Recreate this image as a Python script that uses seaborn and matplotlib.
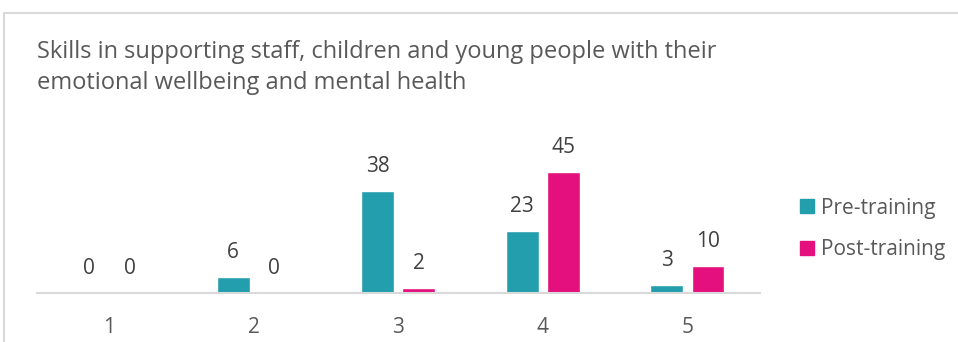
import pandas as pd
import seaborn as sns
import matplotlib.pyplot as plt
from matplotlib.patches import Rectangle, Patch

categories = ["1", "2", "3", "4", "5"]
pre_training = [0, 6, 38, 23, 3]
post_training = [0, 0, 2, 45, 10]
series_names = ["Pre-training", "Post-training"]
title = "Skills in supporting staff, children and young people with their\nemotional wellbeing and mental health"

teal = "#239EAD"
pink = "#E3107D"
grey_text = "#595959"
grey_line = "#D9D9D9"


def make_data():
    rows = []
    for cat, v in zip(categories, pre_training):
        rows.append({"rating": cat, "group": series_names[0], "count": v})
    for cat, v in zip(categories, post_training):
        rows.append({"rating": cat, "group": series_names[1], "count": v})
    return pd.DataFrame(rows)


def make_plot(data, filename):
    sns.set_style("white")
    plt.rcParams["font.family"] = ["Open Sans", "DejaVu Sans"]
    fig = plt.figure(figsize=(9.58, 3.42), dpi=100)
    ax = fig.add_axes([0.0386, 0.1433, 0.7544, 0.4707])
    sns.barplot(data=data, x="rating", y="count", hue="group", order=categories,
                hue_order=series_names, palette=[teal, pink], width=0.57, gap=0.2,
                ax=ax, legend=False, errorbar=None, saturation=1)
    for cont in ax.containers:
        ax.bar_label(cont, padding=10, fontsize=15, color="#404040")
    ax.set_xlim(-0.5, 4.5)
    ax.set_ylim(0, 60)
    ax.set_xlabel("")
    ax.set_ylabel("")
    ax.set_yticks([])
    ax.tick_params(axis="x", length=0, pad=17, labelsize=15, labelcolor=grey_text)
    for s in ["left", "right", "top"]:
        ax.spines[s].set_visible(False)
    ax.spines["bottom"].set_color(grey_line)
    ax.spines["bottom"].set_linewidth(1.5)

    # baseline of a two-line text sits on the last line
    fig.text(37 / 958, 1 - 89 / 342, title, fontsize=17, color=grey_text,
             va="baseline", ha="left", linespacing=1.38)

    handles = [Patch(color=teal), Patch(color=pink)]
    fig.legend(handles, series_names, loc="center left",
               bbox_to_anchor=(800 / 958, 1 - 229 / 342), frameon=False,
               fontsize=15, labelcolor=grey_text, handlelength=0.65,
               handleheight=0.65, handletextpad=0.35, labelspacing=1.0,
               borderpad=0, borderaxespad=0)

    fig.add_artist(Rectangle((4 / 958, -0.1), 1.1, 1 - 13 / 342 + 0.1,
                             transform=fig.transFigure, fill=False,
                             edgecolor=grey_line, linewidth=1.5))
    plt.savefig(filename, dpi=100)


data = make_data()
make_plot(data, "out.png")
